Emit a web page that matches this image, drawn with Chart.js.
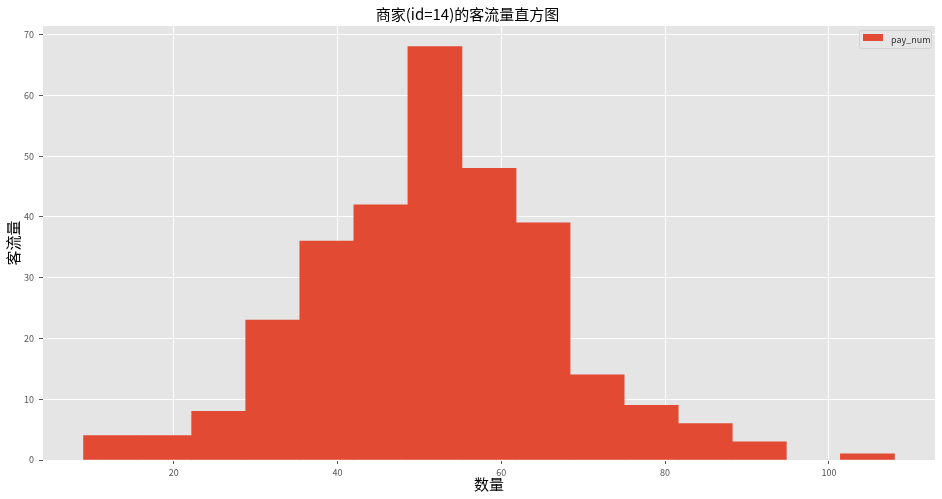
<!DOCTYPE html>
<html>
<head>
<meta charset="utf-8">
<script src="https://cdn.jsdelivr.net/npm/chart.js@4/dist/chart.umd.min.js"></script>
<style>
html,body{margin:0;padding:0;background:#fff;}
#wrap{width:942px;height:499px;}
</style>
</head>
<body>
<div id="wrap"><canvas id="c" width="942" height="499"></canvas></div>
<script>
// Data (15 bins between 9 and 108)
const binEdges = [9, 15.6, 22.2, 28.8, 35.4, 42, 48.6, 55.2, 61.8, 68.4, 75, 81.6, 88.2, 94.8, 101.4, 108];
const counts = [4, 4, 8, 23, 36, 42, 68, 48, 39, 14, 9, 6, 3, 0, 1];
const xTicks = [20, 40, 60, 80, 100];
const yTicks = [0, 10, 20, 30, 40, 50, 60, 70];
const seriesLabel = 'pay_num';
const titleText = '商家(id=14)的客流量直方图';
const xTitle = '数量';
const yTitle = '客流量';

const BAR = '#E24A33';
const BG = '#E5E5E5';
const FONT = '"Noto Sans CJK SC", "DejaVu Sans", sans-serif';

const points = counts.map((c, i) => ({ x: (binEdges[i] + binEdges[i + 1]) / 2, y: c }));

const bgPlugin = {
  id: 'plotBg',
  beforeDraw(chart) {
    const a = chart.chartArea, ctx = chart.ctx;
    ctx.save();
    ctx.fillStyle = BG;
    ctx.fillRect(a.left, a.top, a.right - a.left, a.bottom - a.top);
    ctx.restore();
  }
};

const legendPlugin = {
  id: 'boxLegend',
  afterDraw(chart) {
    const a = chart.chartArea, ctx = chart.ctx;
    ctx.save();
    const w = 72, h = 18;
    const x = a.right - 4 - w, y = a.top + 4;
    ctx.beginPath();
    ctx.roundRect(x + 0.5, y + 0.5, w, h, 2);
    ctx.fillStyle = 'rgba(229,229,229,0.85)';
    ctx.fill();
    ctx.strokeStyle = '#d2d2d2';
    ctx.lineWidth = 1;
    ctx.stroke();
    ctx.fillStyle = BAR;
    ctx.fillRect(x + 4, y + 4, 20, 7);
    ctx.fillStyle = '#333';
    ctx.font = '9px ' + FONT;
    ctx.textBaseline = 'middle';
    ctx.textAlign = 'left';
    ctx.fillText(chart.data.datasets[0].label, x + 32, y + 9.5);
    ctx.restore();
  }
};

new Chart(document.getElementById('c'), {
  type: 'bar',
  data: {
    datasets: [{
      label: seriesLabel,
      data: points,
      backgroundColor: (ctx) => (ctx.raw && ctx.raw.y === 0) ? 'rgba(0,0,0,0)' : BAR,
      borderWidth: 0,
      barPercentage: 1,
      categoryPercentage: 1
    }]
  },
  options: {
    responsive: false,
    animation: false,
    devicePixelRatio: 1,
    layout: { padding: { left: 0, right: 7, top: 0, bottom: 0 } },
    plugins: {
      legend: { display: false },
      tooltip: { enabled: false },
      title: {
        display: true,
        text: titleText,
        color: '#000',
        font: { family: FONT, size: 15, weight: 'normal' },
        padding: { top: 5, bottom: 3 }
      }
    },
    scales: {
      x: {
        type: 'linear',
        offset: false,
        min: 4.05,
        max: 112.95,
        afterBuildTicks(s) { s.ticks = xTicks.map(v => ({ value: v })); },
        afterFit(s) { s.height = 39; },
        grid: { color: '#ffffff', lineWidth: 1, offset: false, drawTicks: true, tickLength: 4, tickColor: '#555' },
        border: { display: false },
        ticks: { color: '#555', font: { family: FONT, size: 9 }, padding: 3, maxRotation: 0 },
        title: { display: true, text: xTitle, color: '#000', font: { family: FONT, size: 15 }, padding: { top: 0, bottom: 6 } }
      },
      y: {
        type: 'linear',
        min: 0,
        max: 71.4,
        afterBuildTicks(s) { s.ticks = yTicks.map(v => ({ value: v })); },
        afterFit(s) { s.width = 43; },
        grid: { color: '#ffffff', lineWidth: 1, drawTicks: true, tickLength: 4, tickColor: '#555' },
        border: { display: false },
        ticks: { color: '#555', font: { family: FONT, size: 9 }, padding: 5 },
        title: { display: true, text: yTitle, color: '#000', font: { family: FONT, size: 15 }, padding: { top: 4, bottom: 0 } }
      }
    }
  },
  plugins: [bgPlugin, legendPlugin]
});
</script>
</body>
</html>
